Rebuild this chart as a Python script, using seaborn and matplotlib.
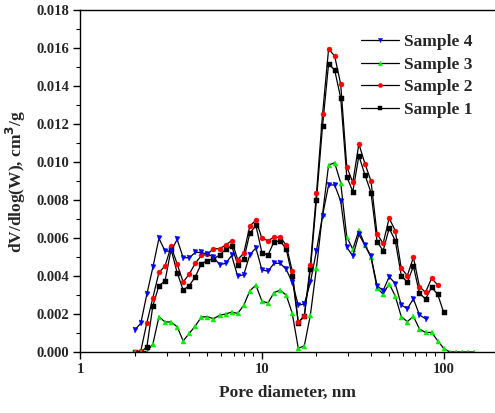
import numpy as np
import pandas as pd
import matplotlib
matplotlib.use("Agg")
import matplotlib.pyplot as plt
from matplotlib.ticker import LogLocator, MultipleLocator, FixedLocator, FixedFormatter, FormatStrFormatter
import seaborn as sns

# Pore diameters (nm) of the BJH/DFT bins
pore_nm = [2.000, 2.160, 2.332, 2.518, 2.719, 2.936, 3.170, 3.423, 3.696, 3.991,
           4.309, 4.653, 5.024, 5.425, 5.857, 6.325, 6.829, 7.374, 7.962, 8.597,
           9.283, 10.02, 10.82, 11.69, 12.62, 13.63, 14.71, 15.89, 17.15, 18.52,
           20.00, 21.60, 23.32, 25.18, 27.19, 29.36, 31.70, 34.23, 36.96, 39.91,
           43.09, 46.53, 50.24, 54.25, 58.57, 63.25, 68.29, 73.74, 79.62, 85.97,
           92.83, 100.2, 108.2, 116.9, 126.2, 136.3, 147.1]

# dV/dlog(W) in units of 1e-3 cm3/g
sample1 = [0.00, 0.02, 0.25, 2.44, 3.49, 3.74, 5.40, 4.18, 3.26, 3.49,
           3.96, 4.65, 4.81, 4.90, 5.10, 5.40, 5.58, 4.60, 4.88, 6.25,
           6.66, 5.23, 5.10, 5.81, 5.84, 5.42, 4.00, 1.51, 1.91, 4.35,
           8.00, 11.89, 15.17, 14.84, 13.37, 9.23, 8.44, 10.33, 9.32, 8.39,
           5.81, 5.33, 6.51, 5.86, 4.02, 3.67, 4.51, 3.09, 2.79, 3.40,
           3.04, 2.09]
sample2 = [0.00, 0.05, 1.54, 2.86, 4.19, 4.52, 5.56, 4.63, 3.68, 4.10,
           4.67, 5.08, 5.14, 5.44, 5.43, 5.63, 5.86, 4.86, 5.20, 6.62,
           6.95, 5.98, 5.86, 6.04, 6.04, 5.63, 4.26, 1.56, 1.91, 4.58,
           8.35, 12.51, 15.95, 15.58, 14.09, 9.74, 8.93, 10.95, 9.91, 9.00,
           6.21, 5.72, 7.04, 6.39, 4.40, 4.02, 4.98, 3.44, 3.14, 3.88,
           3.53]
sample3 = [0.00, 0.00, 0.02, 0.42, 1.86, 1.58, 1.58, 1.33, 0.58, 0.98,
           1.37, 1.84, 1.86, 1.75, 1.93, 2.00, 2.10, 2.03, 2.46, 3.22,
           3.52, 2.68, 2.58, 3.13, 3.25, 3.00, 2.04, 0.19, 0.33, 1.95,
           4.44, 7.25, 9.84, 9.96, 8.90, 6.05, 5.41, 6.40, 5.63, 4.98,
           3.38, 3.04, 3.59, 2.95, 1.86, 1.60, 1.88, 1.21, 1.03, 1.03,
           0.60, 0.19, 0.00, 0.00, 0.00, 0.00, 0.00]
sample4 = [1.16, 1.51, 3.04, 4.46, 5.98, 5.32, 5.30, 5.93, 4.96, 4.96,
           5.24, 5.24, 5.15, 5.00, 4.60, 4.66, 5.08, 3.98, 4.07, 5.12,
           5.48, 4.32, 4.25, 4.67, 4.67, 4.35, 3.67, 2.46, 2.53, 3.67,
           5.33, 7.18, 8.79, 8.79, 7.95, 5.51, 5.05, 6.19, 5.62, 5.05,
           3.49, 3.23, 3.96, 3.60, 2.47, 2.28, 2.80, 1.95, 1.75]

series = {"Sample 1": sample1, "Sample 2": sample2,
          "Sample 3": sample3, "Sample 4": sample4}

frames = []
for name, vals in series.items():
    frames.append(pd.DataFrame({"pore": pore_nm[:len(vals)],
                                "dv": np.array(vals) * 1e-3,
                                "sample": name}))
df = pd.concat(frames, ignore_index=True)

sns.set_theme(style="ticks")
plt.rcParams["font.family"] = ["Liberation Serif", "DejaVu Serif"]
plt.rcParams["font.weight"] = "bold"

fig = plt.figure(figsize=(4.95, 4.13), dpi=100)
ax = fig.add_axes([80 / 495, 61 / 413, 415 / 495, 342 / 413])

styles = {
    "Sample 1": dict(marker="s", mfc="black", mec="black"),
    "Sample 2": dict(marker="o", mfc="#ff0000", mec="#ff0000"),
    "Sample 3": dict(marker="^", mfc="#00ee00", mec="#00ee00"),
    "Sample 4": dict(marker="v", mfc="#0000ff", mec="#0000ff"),
}

for name in ["Sample 1", "Sample 2", "Sample 3", "Sample 4"]:
    st = styles[name]
    sns.lineplot(data=df[df["sample"] == name], x="pore", y="dv", ax=ax,
                 color="black", linewidth=0.9, marker=st["marker"],
                 markersize=3.6, markerfacecolor=st["mfc"],
                 markeredgecolor=st["mec"], markeredgewidth=0.3,
                 label=name, sort=False, estimator=None)

ax.set_xscale("log")
ax.set_xlim(1, 192)
ax.set_ylim(0, 0.018)

ax.xaxis.set_major_locator(FixedLocator([1, 10, 100]))
ax.xaxis.set_major_formatter(FixedFormatter(["1", "10", "100"]))
ax.xaxis.set_minor_locator(LogLocator(base=10, subs=np.arange(2, 10)))
ax.xaxis.set_minor_formatter(FixedFormatter([]))
ax.yaxis.set_major_locator(MultipleLocator(0.002))
ax.yaxis.set_minor_locator(MultipleLocator(0.001))
ax.yaxis.set_major_formatter(FormatStrFormatter("%.3f"))

ax.tick_params(axis="both", which="major", direction="out", length=5,
               width=1, labelsize=10.5, color="black", pad=3)
ax.tick_params(axis="both", which="minor", direction="out", length=3,
               width=0.8, color="black")
for lab in ax.get_xticklabels() + ax.get_yticklabels():
    lab.set_fontweight("bold")

for side in ["left", "bottom", "top"]:
    ax.spines[side].set_color("black")
    ax.spines[side].set_linewidth(1.0)
ax.spines["right"].set_visible(False)

ax.set_xlabel("Pore diameter, nm", fontsize=12.5, fontweight="bold", labelpad=6)
ax.set_ylabel("dV/dlog(W), cm$^\\mathbf{3}$/g", fontsize=12.5,
              fontweight="bold", labelpad=6)

handles, labels = ax.get_legend_handles_labels()
order = [3, 2, 1, 0]
leg = ax.legend([handles[i] for i in order], [labels[i] for i in order],
                loc="upper left", bbox_to_anchor=(0.66, 0.95), frameon=False,
                prop={"size": 12.5, "weight": "bold"}, handlelength=2.2,
                handletextpad=0.3, labelspacing=0.37, borderaxespad=0.0)
for h in leg.legend_handles:
    h.set_markersize(3)

fig.savefig("out.png", dpi=100)
